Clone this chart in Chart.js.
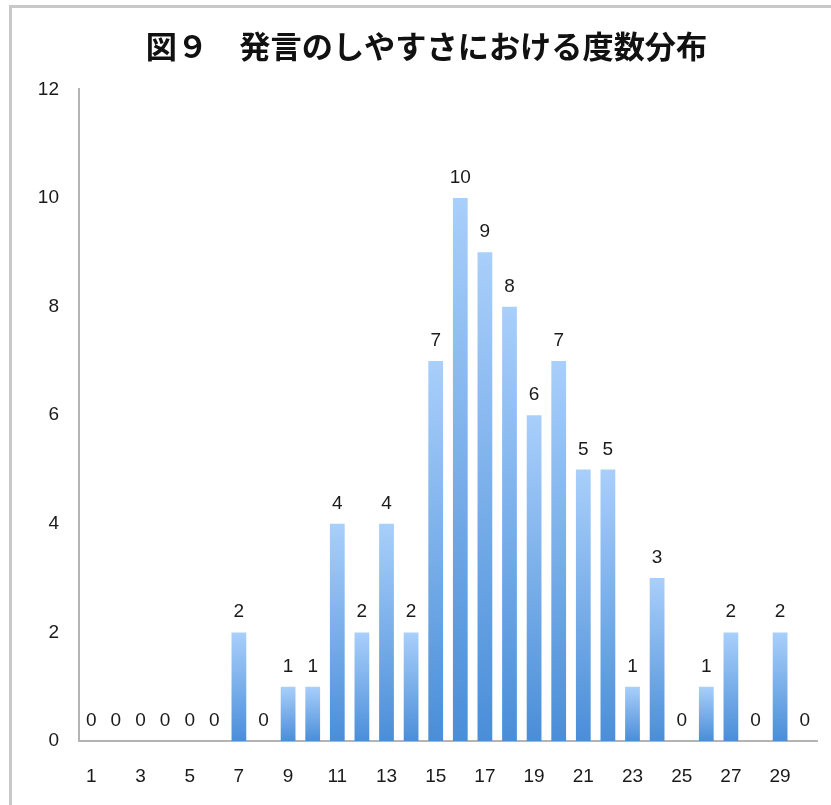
<!DOCTYPE html>
<html lang="ja">
<head>
<meta charset="utf-8">
<script src="https://cdn.jsdelivr.net/npm/chart.js@4/dist/chart.umd.min.js"></script>
<style>
  html, body { margin: 0; padding: 0; background: #ffffff; }
  #wrap { position: relative; width: 831px; height: 805px; overflow: hidden; }
  #frame {
    position: absolute; left: 9px; top: 5px; width: 900px; height: 900px;
    border-left: 3px solid #c8c8c8; border-top: 3px solid #c8c8c8;
    box-sizing: border-box;
  }
  #box { position: absolute; left: 0; top: 0; width: 831px; height: 805px; }
</style>
</head>
<body>
<div id="wrap">
  <div id="frame"></div>
  <div id="box"><canvas id="chart"></canvas></div>
</div>
<script>
// 評定値（1〜30）ごとの人数
const scoreLabels = ['1','2','3','4','5','6','7','8','9','10',
                     '11','12','13','14','15','16','17','18','19','20',
                     '21','22','23','24','25','26','27','28','29','30'];
const counts = [0, 0, 0, 0, 0, 0, 2, 0, 1, 1,
                4, 2, 4, 2, 7, 10, 9, 8, 6, 7,
                5, 5, 1, 3, 0, 1, 2, 0, 2, 0];
const yTicks = [0, 2, 4, 6, 8, 10, 12];
const chartTitle = '図９　発言のしやすさにおける度数分布';

const LATIN = '"Liberation Sans", Arial, Helvetica, sans-serif';

// 各棒の上端から基線へ向かう縦グラデーション
function barGradient(context) {
  const chart = context.chart;
  const y = chart.scales.y;
  if (!y || context.type !== 'data') return '#6fa6e8';
  const top = y.getPixelForValue(context.raw);
  const base = y.getPixelForValue(0);
  if (!(base - top > 0.5)) return '#6fa6e8';
  const g = chart.ctx.createLinearGradient(0, top, 0, base);
  g.addColorStop(0, '#a9cffb');
  g.addColorStop(1, '#4a8ed8');
  return g;
}

// 棒の上に度数を描く
const valueLabels = {
  id: 'valueLabels',
  afterDatasetsDraw(chart) {
    const ctx = chart.ctx;
    const meta = chart.getDatasetMeta(0);
    ctx.save();
    ctx.font = '19px ' + LATIN;
    ctx.fillStyle = '#1a1a1a';
    ctx.textAlign = 'center';
    ctx.textBaseline = 'alphabetic';
    meta.data.forEach((bar, i) => {
      ctx.fillText(String(counts[i]), bar.x, bar.y - 15);
    });
    ctx.restore();
  }
};

// タイトルを右へ少し寄せる
const titleShift = {
  id: 'titleShift',
  afterLayout(chart) {
    const t = chart.titleBlock;
    if (t) { t.left += 18; t.right += 18; }
  }
};

new Chart(document.getElementById('chart'), {
  type: 'bar',
  data: {
    labels: scoreLabels,
    datasets: [{
      data: counts,
      backgroundColor: barGradient,
      borderWidth: 0,
      barPercentage: 0.6,
      categoryPercentage: 1.0
    }]
  },
  options: {
    responsive: true,
    maintainAspectRatio: false,
    animation: false,
    layout: { padding: { left: 0, right: 14, top: 0, bottom: 20 } },
    plugins: {
      legend: { display: false },
      tooltip: { enabled: false },
      title: {
        display: true,
        text: chartTitle,
        color: '#111111',
        font: { family: '"Noto Sans CJK JP", sans-serif', size: 31.2, weight: 'bold', lineHeight: 1.2 },
        padding: { top: 27, bottom: 25 }
      }
    },
    scales: {
      x: {
        afterFit: (scale) => { scale.height = 44; },
        grid: { display: false, drawTicks: false },
        border: { display: true, color: '#b4b4b4', width: 2 },
        ticks: {
          autoSkip: false,
          maxRotation: 0,
          padding: 24,
          color: '#1a1a1a',
          font: { family: LATIN, size: 19 },
          callback: (v, i) => (i % 2 === 0 ? scoreLabels[i] : '')
        }
      },
      y: {
        min: yTicks[0],
        max: yTicks[yTicks.length - 1],
        afterFit: (scale) => { scale.width = 79; },
        afterBuildTicks: (scale) => { scale.ticks = yTicks.map(v => ({ value: v })); },
        grid: { display: false, drawTicks: false },
        border: { display: true, color: '#b4b4b4', width: 2 },
        ticks: {
          padding: 20,
          color: '#1a1a1a',
          font: { family: LATIN, size: 19 }
        }
      }
    }
  },
  plugins: [valueLabels, titleShift]
});
</script>
</body>
</html>
